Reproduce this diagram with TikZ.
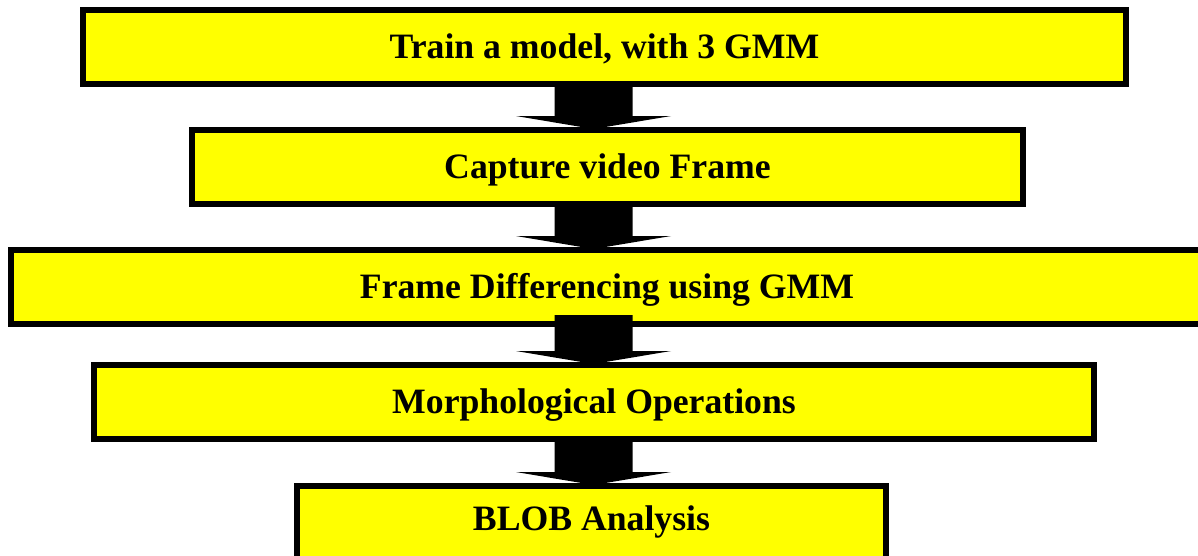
\documentclass[tikz,border=0pt]{standalone}
\usepackage{fontspec}
\setmainfont{Liberation Serif}
\usetikzlibrary{calc}
\definecolor{boxyellow}{RGB}{255,255,0}
\pgfdeclarelayer{L1}\pgfdeclarelayer{L2}\pgfdeclarelayer{L3}\pgfdeclarelayer{L4}\pgfdeclarelayer{L5}
\pgfsetlayers{L1,L2,L3,L4,L5,main}
\tikzset{
  stepbox/.style={draw=black, fill=boxyellow, line width=6pt, rectangle, outer sep=0pt, inner sep=0pt,
    font=\fontsize{35.7}{40}\selectfont\bfseries, text height=23.5pt, text depth=0pt, align=center},
  blockfill/.style={fill=black}
}
\newcommand{\blockarr}[3]{%
  \fill[blockfill] ($(ax |- #1.south)+(-39,#3)$) -- ($(ax |- #2.north)+(-39,-14)$)
    -- ($(ax |- #2.north)+(-77.5,-14)$) -- ($(ax |- #2.north)+(0,-1)$)
    -- ($(ax |- #2.north)+(77.5,-14)$) -- ($(ax |- #2.north)+(39,-14)$)
    -- ($(ax |- #1.south)+(39,#3)$) -- cycle;}
\begin{document}
\begin{tikzpicture}[x=1pt,y=-1pt]
\useasboundingbox (0,0) rectangle (1198,555);
\coordinate (ax) at (593.5,0);
\begin{pgfonlayer}{L1}
\node[stepbox, minimum width=1043pt, minimum height=74pt] (b1) at (604.5,47) {Train a model, with 3 GMM};
\end{pgfonlayer}
\begin{pgfonlayer}{L2}
\node[stepbox, minimum width=831pt, minimum height=74pt] (b2) at (607.5,167) {Capture video Frame};
\end{pgfonlayer}
\begin{pgfonlayer}{L3}
\node[stepbox, minimum width=1240pt, minimum height=74pt] (b3) at (631,287) {\hspace*{-48pt}Frame Differencing using GMM};
\end{pgfonlayer}
\begin{pgfonlayer}{L4}
\node[stepbox, minimum width=1000pt, minimum height=74pt] (b4) at (594,402) {Morphological Operations};
\end{pgfonlayer}
\begin{pgfonlayer}{L5}
\node[stepbox, minimum width=589pt, minimum height=74pt, text depth=9.5pt] (b5) at (591.5,523) {BLOB Analysis};
\end{pgfonlayer}
\begin{pgfonlayer}{L1}\blockarr{b1}{b2}{0}\end{pgfonlayer}
\begin{pgfonlayer}{L2}\blockarr{b2}{b3}{0}\end{pgfonlayer}
\begin{pgfonlayer}{L3}\blockarr{b3}{b4}{-9}\end{pgfonlayer}
\begin{pgfonlayer}{L4}\blockarr{b4}{b5}{0}\end{pgfonlayer}
\end{tikzpicture}
\end{document}
